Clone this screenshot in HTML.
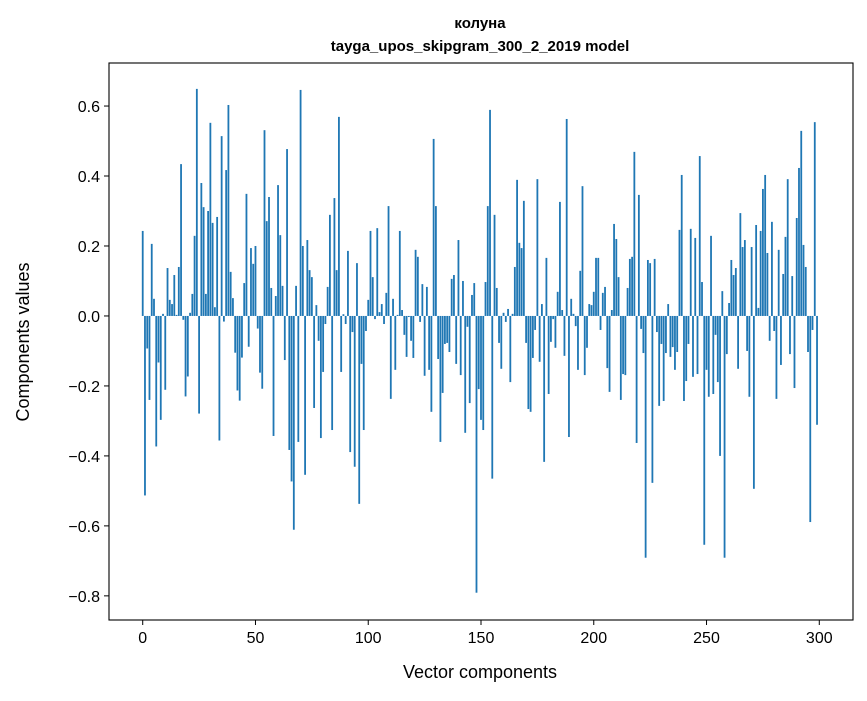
<!DOCTYPE html>
<html><head><meta charset="utf-8"><style>
body{margin:0;background:#fff;}
svg text{font-family:"Liberation Sans","DejaVu Sans",sans-serif;fill:#000;}
</style></head><body>
<svg id="chart" width="867" height="696" viewBox="0 0 867 696" xmlns="http://www.w3.org/2000/svg">
<rect width="867" height="696" fill="#fff"/>
<text x="480" y="28" text-anchor="middle" font-size="15" font-weight="bold">колуна</text>
<text x="480" y="51" text-anchor="middle" font-size="15" font-weight="bold">tayga_upos_skipgram_300_2_2019 model</text>
<g id="bars"></g>
<g id="axes"></g>
<text x="480" y="678" text-anchor="middle" font-size="18">Vector components</text>
<text transform="translate(29,342) rotate(-90)" text-anchor="middle" font-size="18">Components values</text>
</svg>
<script>
const values = [0.243,-0.513,-0.093,-0.24,0.206,0.049,-0.373,-0.133,-0.297,0.006,
-0.211,0.137,0.046,0.034,0.117,0.003,0.14,0.434,-0.011,-0.23,
-0.173,0.009,0.063,0.229,0.649,-0.279,0.38,0.311,0.063,0.3,
0.552,0.266,0.025,0.283,-0.356,0.514,-0.016,0.417,0.603,0.126,
0.051,-0.105,-0.213,-0.242,-0.119,0.094,0.349,-0.088,0.194,0.149,
0.2,-0.036,-0.162,-0.208,0.531,0.271,0.34,0.08,-0.343,0.057,
0.374,0.231,0.086,-0.126,0.477,-0.383,-0.473,-0.611,0.086,-0.36,
0.646,0.2,-0.454,0.217,0.131,0.111,-0.263,0.031,-0.071,-0.349,
-0.16,-0.023,0.083,0.289,-0.326,0.337,0.131,0.569,-0.16,0.005,
-0.023,0.186,-0.389,-0.046,-0.431,0.151,-0.537,-0.137,-0.326,-0.043,
0.046,0.243,0.111,-0.009,0.251,0.011,0.034,-0.023,0.066,0.314,
-0.237,0.049,-0.154,0.003,0.243,0.017,-0.054,-0.117,-0.003,-0.071,
-0.12,0.189,0.169,-0.017,0.091,-0.171,0.083,-0.154,-0.274,0.506,
0.314,-0.123,-0.36,-0.22,-0.08,-0.077,-0.103,0.106,0.117,-0.137,
0.217,-0.169,0.1,-0.334,-0.031,-0.249,0.06,0.094,-0.791,-0.209,
-0.297,-0.326,0.097,0.314,0.589,-0.465,0.289,0.08,-0.077,-0.151,
0.009,-0.017,0.02,-0.189,0.006,0.14,0.389,0.209,0.194,0.329,
-0.077,-0.266,-0.274,-0.12,-0.04,0.391,-0.131,0.034,-0.417,0.166,
-0.223,-0.074,-0.009,-0.091,0.069,0.326,0.017,-0.114,0.563,-0.346,
0.049,0.006,-0.029,-0.154,0.129,0.371,-0.169,-0.091,0.034,0.031,
0.069,0.166,0.166,-0.04,0.066,0.083,-0.149,-0.217,0.017,0.263,
0.22,0.111,-0.24,-0.166,-0.169,0.08,0.163,0.169,0.469,-0.363,
0.346,-0.037,-0.106,-0.691,0.16,0.151,-0.477,0.163,-0.046,-0.257,
-0.08,-0.243,-0.106,0.034,-0.117,-0.089,-0.154,-0.103,0.246,0.403,
-0.243,-0.186,-0.08,0.249,-0.174,0.223,-0.166,0.457,0.097,-0.654,
-0.154,-0.231,0.229,-0.223,-0.054,-0.189,-0.4,0.071,-0.691,-0.109,
0.037,0.16,0.117,0.137,-0.151,0.294,0.197,0.217,-0.1,-0.231,
0.197,-0.494,0.26,0.023,0.243,0.363,0.403,0.18,-0.071,0.269,
-0.043,-0.237,0.189,-0.14,0.12,0.226,0.391,-0.109,0.114,-0.206,
0.28,0.423,0.529,0.203,0.14,-0.103,-0.589,-0.04,0.554,-0.311];
const xTicks = [0,50,100,150,200,250,300];
const yTicks = [0.6,0.4,0.2,0.0,-0.2,-0.4,-0.6,-0.8];
const yTickLabels = ["0.6","0.4","0.2","0.0","\u22120.2","\u22120.4","\u22120.6","\u22120.8"];

const L=109,R=853,T=63,B=620;
const xMin=-14.95,xMax=314.95,yMin=-0.869,yMax=0.723;
const xs=v=>L+(v-xMin)/(xMax-xMin)*(R-L);
const ys=v=>T+(yMax-v)/(yMax-yMin)*(B-T);
const NS="http://www.w3.org/2000/svg";
const bars=document.getElementById('bars');
const bw=xs(0.8)-xs(0);
values.forEach((v,i)=>{
  const r=document.createElementNS(NS,'rect');
  
  
  const y0=ys(0),y1=ys(v);
  r.setAttribute('x',xs(i)-bw/2);
  r.setAttribute('width',bw);
  r.setAttribute('y',Math.min(y0,y1));
  r.setAttribute('height',Math.abs(y1-y0));
  r.setAttribute('fill','#1f77b4');
  bars.appendChild(r);
});
const ax=document.getElementById('axes');
const frame=document.createElementNS(NS,'rect');


frame.setAttribute('x',L);frame.setAttribute('y',T);
frame.setAttribute('width',R-L);frame.setAttribute('height',B-T);
frame.setAttribute('fill','none');frame.setAttribute('stroke','#000');frame.setAttribute('stroke-width','1.1');
ax.appendChild(frame);
xTicks.forEach(t=>{
  const l=document.createElementNS(NS,'line');
  
  
  l.setAttribute('x1',xs(t));l.setAttribute('x2',xs(t));l.setAttribute('y1',B);l.setAttribute('y2',B+5);
  l.setAttribute('stroke','#000');
  ax.appendChild(l);
  const tx=document.createElementNS(NS,'text');
  
  
  tx.setAttribute('x',xs(t));tx.setAttribute('y',B+23);
  tx.setAttribute('text-anchor','middle');tx.setAttribute('font-size','16');
  tx.textContent=String(t);
  ax.appendChild(tx);
});
yTicks.forEach((t,i)=>{
  const l=document.createElementNS(NS,'line');
  
  
  l.setAttribute('x1',L-5);l.setAttribute('x2',L);l.setAttribute('y1',ys(t));l.setAttribute('y2',ys(t));
  l.setAttribute('stroke','#000');
  ax.appendChild(l);
  const tx=document.createElementNS(NS,'text');
  
  
  tx.setAttribute('x',L-9);tx.setAttribute('y',ys(t)+6);
  tx.setAttribute('text-anchor','end');tx.setAttribute('font-size','16');
  tx.textContent=yTickLabels[i];
  ax.appendChild(tx);
});
</script>
</body></html>
